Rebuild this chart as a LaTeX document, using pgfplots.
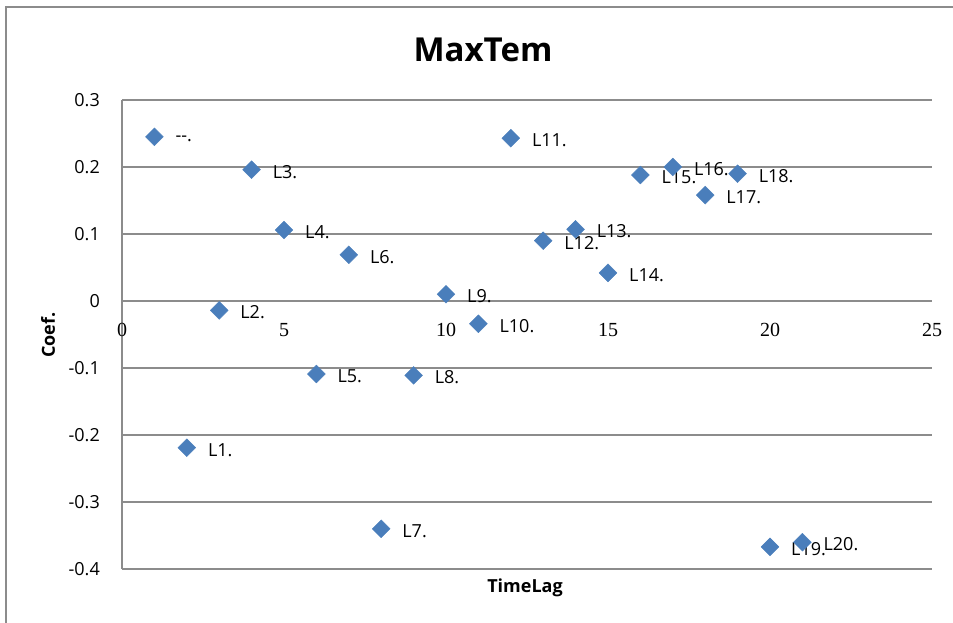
\documentclass[border=0pt]{standalone}
\usepackage{fontspec}
\setmainfont{Open Sans}
\newfontfamily\xfont{Liberation Serif}
\usepackage{pgfplots}
\pgfplotsset{compat=1.18}
\definecolor{ptblue}{HTML}{4A7EBB}
\definecolor{gridgray}{HTML}{8C8C8C}
\begin{document}
\begin{tikzpicture}[x=1pt,y=1pt]
\path[use as bounding box] (0,0) rectangle (953,623);
\draw[gridgray, line width=2pt] (6,0) -- (6,616) -- (953,616);
\begin{axis}[
  at={(122pt,54pt)}, anchor=south west,
  scale only axis, width=810pt, height=469pt,
  xmin=0, xmax=25, ymin=-0.4, ymax=0.3,
  axis x line*=middle, axis y line*=left,
  hide obscured x ticks=false, hide obscured y ticks=false,
  axis line style={gridgray, line width=1.2pt, -},
  xtick={0,5,10,15,20,25},
  xticklabels={0,5,10,15,20,25},
  ytick={-0.4,-0.3,-0.2,-0.1,0,0.1,0.2,0.3},
  yticklabels={-0.4,-0.3,-0.2,-0.1,0,0.1,0.2,0.3},
  major tick length=0pt,
  tick style={draw=none},
  xticklabel style={font=\xfont\fontsize{20}{22}\selectfont, anchor=center, yshift=-29pt, inner sep=0pt},
  yticklabel style={font=\fontsize{18}{20}\selectfont, anchor=east, xshift=-22pt, inner sep=0pt},
  ymajorgrids,
  grid style={gridgray, line width=1.2pt},
  clip=false,
  point meta=explicit symbolic,
  nodes near coords,
  every node near coord/.append style={anchor=west, xshift=21pt, yshift=-2pt, inner sep=0pt, font=\fontsize{18}{20}\selectfont, text=black},
]
\addplot[only marks, mark=square*, mark size=6.3pt, mark options={rotate=45, fill=ptblue, draw=ptblue}] coordinates {
(1,0.245) [\mbox{-}\mbox{-}.]
(2,-0.219) [L1.]
(3,-0.014) [L2.]
(4,0.196) [L3.]
(5,0.106) [L4.]
(6,-0.109) [L5.]
(7,0.069) [L6.]
(8,-0.340) [L7.]
(9,-0.111) [L8.]
(10,0.010) [L9.]
(11,-0.034) [L10.]
(12,0.243) [L11.]
(13,0.090) [L12.]
(14,0.107) [L13.]
(15,0.042) [L14.]
(16,0.188) [L15.]
(17,0.200) [L16.]
(18,0.158) [L17.]
(19,0.190) [L18.]
(20,-0.367) [L19.]
(21,-0.360) [L20.]
};
\end{axis}
\node[font=\bfseries\fontsize{33}{36}\selectfont, anchor=base] at (483,561) {MaxTem};
\node[font=\bfseries\fontsize{18}{20}\selectfont, anchor=base] at (525,30) {TimeLag};
\node[font=\bfseries\fontsize{18}{20}\selectfont, rotate=90, anchor=center] at (48,288) {Coef.};
\end{tikzpicture}
\end{document}
